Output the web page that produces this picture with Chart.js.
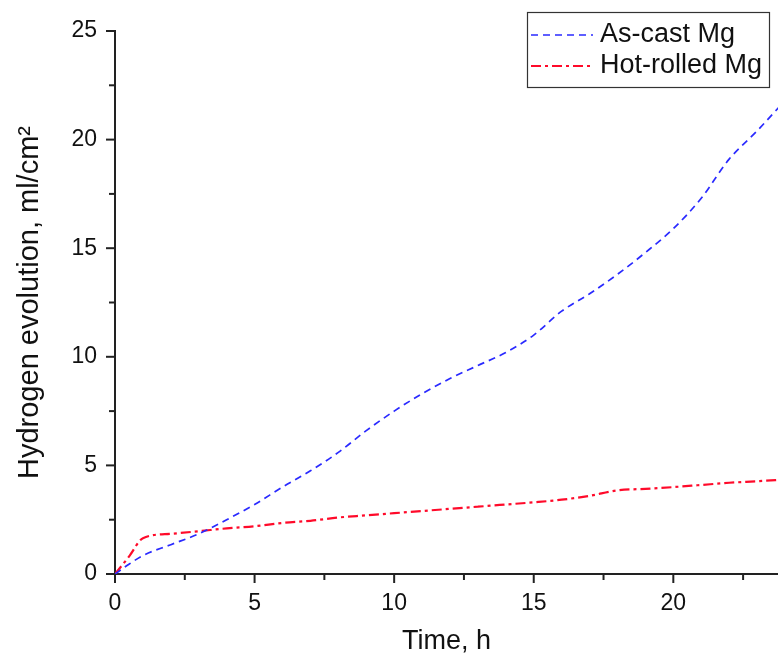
<!DOCTYPE html>
<html>
<head>
<meta charset="utf-8">
<script src="https://cdn.jsdelivr.net/npm/chart.js@4.4.1/dist/chart.umd.min.js"></script>
<style>
  html, body { margin: 0; padding: 0; background: #fff; }
  #wrap { width: 778px; height: 658px; }
</style>
</head>
<body>
<div id="wrap"><canvas id="h2Chart" width="778" height="658"></canvas></div>
<script>
// Time points (h)
const hours = [0, 0.5, 1, 2, 3, 4, 5, 6, 7, 8, 9, 10, 11, 12, 13, 14, 15, 16, 17, 18, 19, 20, 21, 22, 23, 24];
// Hydrogen evolution, ml/cm2
const asCast    = [0, 0.45, 0.85, 1.35, 1.85, 2.5, 3.2, 4.0, 4.75, 5.6, 6.6, 7.5, 8.3, 9.0, 9.6, 10.2, 11.0, 12.1, 12.9, 13.8, 14.8, 15.9, 17.3, 19.1, 20.4, 21.8];
const hotRolled = [0, 0.8, 1.65, 1.85, 1.97, 2.1, 2.2, 2.35, 2.45, 2.6, 2.7, 2.8, 2.9, 3.0, 3.1, 3.2, 3.3, 3.42, 3.6, 3.85, 3.92, 4.0, 4.1, 4.2, 4.27, 4.35];
const seriesNames = ['As-cast Mg', 'Hot-rolled Mg'];
const xMajor = [0, 5, 10, 15, 20];
const yMajor = [0, 5, 10, 15, 20, 25];

const toPoints = (ys) => hours.map((t, i) => ({ x: t, y: ys[i] }));
const FONT = "'Liberation Sans', Arial, sans-serif";
const AXIS = '#222';

// ticks outside the axes, long on majors, short on minors
const tickPlugin = {
  id: 'ticks',
  afterDraw(chart) {
    const ctx = chart.ctx;
    const xs = chart.scales.x, ys = chart.scales.y;
    const area = chart.chartArea;
    ctx.save();
    ctx.strokeStyle = AXIS;
    ctx.lineWidth = 2;
    for (let v = 0; v <= xs.max; v += 2.5) {
      const px = xs.getPixelForValue(v);
      const len = xMajor.includes(v) ? 9 : 6;
      ctx.beginPath();
      ctx.moveTo(px, area.bottom);
      ctx.lineTo(px, area.bottom + len);
      ctx.stroke();
    }
    for (let v = 0; v <= ys.max; v += 2.5) {
      const py = ys.getPixelForValue(v);
      const len = yMajor.includes(v) ? 9 : 6;
      ctx.beginPath();
      ctx.moveTo(area.left, py);
      ctx.lineTo(area.left - len, py);
      ctx.stroke();
    }
    ctx.restore();
  }
};

// boxed legend in the upper right corner
const legendPlugin = {
  id: 'boxLegend',
  afterDraw(chart) {
    const ctx = chart.ctx;
    ctx.save();
    ctx.strokeStyle = '#333';
    ctx.lineWidth = 1.2;
    ctx.strokeRect(527.5, 12.5, 242, 75);
    chart.data.datasets.forEach((ds, i) => {
      const y = 35 + i * 31;
      ctx.strokeStyle = ds.borderColor;
      ctx.lineWidth = ds.borderWidth;
      ctx.setLineDash(ds.borderDash);
      ctx.beginPath();
      ctx.moveTo(531, y);
      ctx.lineTo(593, y);
      ctx.stroke();
      ctx.setLineDash([]);
      ctx.fillStyle = '#111';
      ctx.font = '27px ' + FONT;
      ctx.textBaseline = 'middle';
      ctx.fillText(ds.label, 600, y);
    });
    ctx.restore();
  }
};

const ctx = document.getElementById('h2Chart').getContext('2d');
new Chart(ctx, {
  type: 'line',
  data: {
    datasets: [{
      label: seriesNames[0],
      data: toPoints(asCast),
      borderColor: '#2a2aff',
      borderWidth: 1.7,
      borderDash: [7, 5],
      pointRadius: 0,
      cubicInterpolationMode: 'monotone',
      fill: false
    }, {
      label: seriesNames[1],
      data: toPoints(hotRolled),
      borderColor: '#ff0a2a',
      borderWidth: 2.2,
      borderDash: [10, 4, 3, 4],
      pointRadius: 0,
      cubicInterpolationMode: 'monotone',
      fill: false
    }]
  },
  options: {
    responsive: false,
    animation: false,
    devicePixelRatio: 1,
    layout: { padding: { top: 31, left: 0, right: 0, bottom: 0 } },
    plugins: { legend: { display: false }, tooltip: { enabled: false } },
    scales: {
      x: {
        type: 'linear',
        min: 0,
        max: 23.75,
        afterFit: (s) => { s.height = 84; },
        afterBuildTicks: (s) => { s.ticks = xMajor.map(v => ({ value: v })); },
        grid: { display: true, drawOnChartArea: false, color: 'rgba(0,0,0,0)', tickLength: 9 },
        border: { display: true, color: AXIS, width: 2 },
        ticks: { color: '#111', padding: 7, maxRotation: 0, font: { family: FONT, size: 23 } },
        title: { display: true, text: 'Time, h', color: '#111', padding: { top: 0, bottom: 0 }, font: { family: FONT, size: 27 } }
      },
      y: {
        type: 'linear',
        min: 0,
        max: 25,
        afterFit: (s) => { s.width = 115; },
        afterBuildTicks: (s) => { s.ticks = yMajor.map(v => ({ value: v })); },
        grid: { display: true, drawOnChartArea: false, color: 'rgba(0,0,0,0)', tickLength: 9 },
        border: { display: true, color: AXIS, width: 2 },
        ticks: { color: '#111', padding: 9, font: { family: FONT, size: 23 } },
        title: { display: true, text: 'Hydrogen evolution, ml/cm\u00b2', color: '#111', padding: { top: 13, bottom: 0 }, font: { family: FONT, size: 29 } }
      }
    }
  },
  plugins: [tickPlugin, legendPlugin]
});
</script>
</body>
</html>
